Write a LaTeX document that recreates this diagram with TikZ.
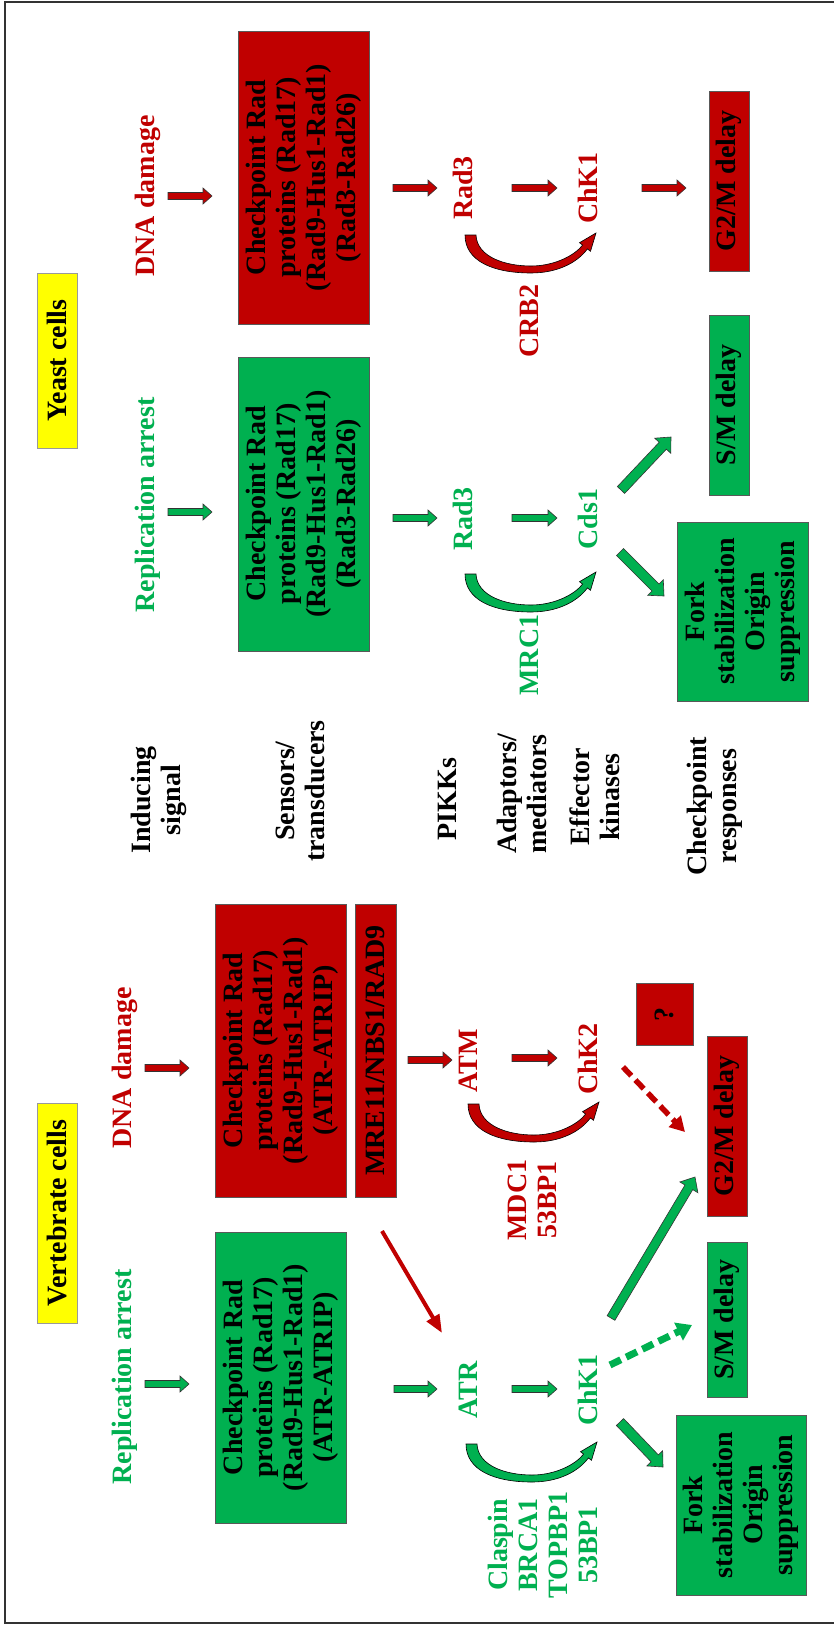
\documentclass[tikz,border=0pt]{standalone}
\usepackage{fontspec}
\setmainfont{Liberation Serif}
\usetikzlibrary{calc,arrows.meta}
\definecolor{cred}{HTML}{C00000}
\definecolor{cgreen}{HTML}{00B050}
\definecolor{cyellow}{HTML}{FFFF00}
\newcommand\bigfont{\fontsize{28}{30}\selectfont\bfseries}
% block arrow from #2 to #3: style #1, shaft half width #4, head half width #5, head length #6
\newcommand\blockarrow[6]{%
  \coordinate (bac) at ($(#3)!#6!(#2)$);
  \filldraw[#1] ($(#2)!#4!90:(#3)$) -- ($(bac)!#4!-90:(#2)$) -- ($(bac)!#5!-90:(#2)$) -- (#3)
    -- ($(bac)!#5!90:(#2)$) -- ($(bac)!#4!90:(#2)$) -- ($(#2)!#4!-90:(#3)$) -- cycle;}
% curved block arrow starting at coordinate #2
\newcommand\bendarrow[2]{%
  \filldraw[#1, shift={(#2)}] (0,0) -- (11,0) .. controls (12,22) and (40,31) .. (66,31)
    .. controls (90,31) and (110,20) .. (117.6,10.1) -- (114.5,7.7) -- (131,-2)
    -- (125.5,16.3) -- (122.4,13.9) .. controls (112,28) and (92,38) .. (66,38)
    .. controls (28,38) and (0,26) .. (0,0) -- cycle;}
\tikzset{
  lbl/.style={rotate=90, font=\bigfont, align=center, inner sep=0pt},
  redlbl/.style={lbl, text=cred},
  greenlbl/.style={lbl, text=cgreen},
  blacklbl/.style={lbl, text=black},
  box/.style={lbl, draw=black!65, line width=0.8pt, text=black},
  redbox/.style={box, fill=cred},
  greenbox/.style={box, fill=cgreen},
  yellowbox/.style={box, fill=cyellow, draw=black!40},
  redarr/.style={fill=cred, draw=black!80, line width=0.6pt},
  greenarr/.style={fill=cgreen, draw=black!80, line width=0.6pt},
  redbend/.style={fill=cred, draw=black, line width=0.6pt},
  greenbend/.style={fill=cgreen, draw=black, line width=0.6pt},
}
\begin{document}
\begin{tikzpicture}[x=1pt, y=-1pt]
\useasboundingbox (0,0) rectangle (834,1627);
\fill[white] (0,0) rectangle (834,1627);
% frame
\draw[black!80, line width=1.5pt] (834,2) -- (5,2) -- (5,1623) -- (834,1623);

% ---------------- yeast cells ----------------
\node[yellowbox, minimum width=175pt, minimum height=40pt] (yeast) at (57,360.5) {Yeast cells};
\node[redlbl] (ydna) at (148,196) {DNA damage};
\node[greenlbl] (yrep) at (148,505) {Replication arrest};
\node[redbox, minimum width=293pt, minimum height=131pt] (ysensr) at (303.5,177.5)
  {Checkpoint Rad\\proteins (Rad17)\\(Rad9-Hus1-Rad1)\\(Rad3-Rad26)};
\node[greenbox, minimum width=294pt, minimum height=131pt] (ysensg) at (303.5,504)
  {Checkpoint Rad\\proteins (Rad17)\\(Rad9-Hus1-Rad1)\\(Rad3-Rad26)};
\node[redlbl] (yrad3r) at (463,188) {Rad3};
\node[redlbl] (ychk1) at (588,188) {ChK1};
\node[redlbl] (ycrb2) at (529,321) {CRB2};
\node[greenlbl] (yrad3g) at (463,519) {Rad3};
\node[greenlbl] (ycds1) at (588,519) {Cds1};
\node[greenlbl] (ymrc1) at (529,655) {MRC1};
\node[redbox, minimum width=180pt, minimum height=40pt] (yg2m) at (729,181) {G2/M delay};
\node[greenbox, minimum width=180pt, minimum height=40pt] (ysm) at (729,405) {S/M delay};
\node[greenbox, minimum width=179pt, minimum height=131pt] (yfork) at (742.5,611.5)
  {Fork\\stabilization\\Origin\\suppression};

% ---------------- row titles ----------------
\node[blacklbl] (tsig) at (159,800) {Inducing\\signal};
\node[blacklbl] (tsens) at (300,791) {Sensors/\\transducers};
\node[blacklbl] (tpikk) at (447,799) {PIKKs};
\node[blacklbl] (tadap) at (522,794) {Adaptors/\\mediators};
\node[blacklbl] (teff) at (595,797) {Effector\\kinases};
\node[blacklbl] (tresp) at (715,806) {Checkpoint\\responses};

% ---------------- vertebrate cells ----------------
\node[yellowbox, minimum width=220pt, minimum height=40pt] (vert) at (57,1213) {Vertebrate cells};
\node[redlbl] (vdna) at (125,1068) {DNA damage};
\node[greenlbl] (vrep) at (125,1377) {Replication arrest};
\node[redbox, minimum width=293pt, minimum height=131pt] (vsensr) at (280.5,1050.5)
  {Checkpoint Rad\\proteins (Rad17)\\(Rad9-Hus1-Rad1)\\(ATR-ATRIP)};
\node[redbox, minimum width=293pt, minimum height=41pt] (vmre) at (375.5,1050.5) {MRE11/NBS1/RAD9};
\node[greenbox, minimum width=291pt, minimum height=131pt] (vsensg) at (280.5,1377.5)
  {Checkpoint Rad\\proteins (Rad17)\\(Rad9-Hus1-Rad1)\\(ATR-ATRIP)};
\node[redlbl] (vatm) at (468,1061) {ATM};
\node[redlbl] (vchk2) at (588,1059) {ChK2};
\node[redlbl] (vmdc) at (532,1200) {MDC1\\53BP1};
\node[greenlbl] (vatr) at (468,1390) {ATR};
\node[greenlbl] (vchk1) at (588,1390) {ChK1};
\node[greenlbl] (vclasp) at (543,1545) {Claspin\\BRCA1\\TOPBP1\\53BP1};
\node[redbox, minimum width=62pt, minimum height=57pt] (vq) at (664.5,1014) {?};
\node[redbox, minimum width=180pt, minimum height=40pt] (vg2m) at (727,1126) {G2/M delay};
\node[greenbox, minimum width=155pt, minimum height=40pt] (vsm) at (727,1319.5) {S/M delay};
\node[greenbox, minimum width=180pt, minimum height=130pt] (vfork) at (741,1505)
  {Fork\\stabilization\\Origin\\suppression};

% ---------------- arrow end points ----------------
\coordinate (ya1) at (168,196);  \coordinate (ya1e) at (212,196);
\coordinate (ya2) at (393,188);  \coordinate (ya2e) at (437,188);
\coordinate (ya3) at (512,188);  \coordinate (ya3e) at (557,188);
\coordinate (ya4) at (642,188);  \coordinate (ya4e) at (686,188);
\coordinate (yb1) at (168,512);  \coordinate (yb1e) at (212,512);
\coordinate (yb2) at (393,518);  \coordinate (yb2e) at (437,518);
\coordinate (yb3) at (512,518);  \coordinate (yb3e) at (557,518);
\coordinate (yb4) at (621,490);  \coordinate (yb4e) at (671,437);
\coordinate (yb5) at (620,552);  \coordinate (yb5e) at (664,596);
\coordinate (va1) at (145,1068); \coordinate (va1e) at (189,1068);
\coordinate (va2) at (408,1060); \coordinate (va2e) at (452,1060);
\coordinate (va3) at (512,1058); \coordinate (va3e) at (557,1058);
\coordinate (vb1) at (145,1384); \coordinate (vb1e) at (189,1384);
\coordinate (vb2) at (394,1389); \coordinate (vb2e) at (437,1389);
\coordinate (vb3) at (512,1389); \coordinate (vb3e) at (557,1389);
\coordinate (vb4) at (611,1318); \coordinate (vb4e) at (695,1177);
\coordinate (vb5) at (620,1422); \coordinate (vb5e) at (663,1467);
\coordinate (vd1) at (610,1365); \coordinate (vd1e) at (692,1325);
\coordinate (vd2) at (623,1067); \coordinate (vd2e) at (685,1132);
\coordinate (vr1) at (382,1231); \coordinate (vr1e) at (442,1333);
\coordinate (yc1) at (465,235);  \coordinate (yc2) at (465,574);
\coordinate (vc1) at (468,1104); \coordinate (vc2) at (466,1444);

% ---------------- straight block arrows ----------------
\blockarrow{redarr}{ya1}{ya1e}{3.5pt}{8pt}{9pt}
\blockarrow{redarr}{ya2}{ya2e}{3.5pt}{8pt}{9pt}
\blockarrow{redarr}{ya3}{ya3e}{3.5pt}{8pt}{9pt}
\blockarrow{redarr}{ya4}{ya4e}{3.5pt}{8pt}{9pt}
\blockarrow{greenarr}{yb1}{yb1e}{3.5pt}{8pt}{9pt}
\blockarrow{greenarr}{yb2}{yb2e}{3.5pt}{8pt}{9pt}
\blockarrow{greenarr}{yb3}{yb3e}{3.5pt}{8pt}{9pt}
\blockarrow{greenarr}{yb4}{yb4e}{5pt}{11pt}{12pt}
\blockarrow{greenarr}{yb5}{yb5e}{5pt}{11pt}{12pt}
\blockarrow{redarr}{va1}{va1e}{3.5pt}{8pt}{9pt}
\blockarrow{redarr}{va2}{va2e}{3.5pt}{8pt}{9pt}
\blockarrow{redarr}{va3}{va3e}{3.5pt}{8pt}{9pt}
\blockarrow{greenarr}{vb1}{vb1e}{3.5pt}{8pt}{9pt}
\blockarrow{greenarr}{vb2}{vb2e}{3.5pt}{8pt}{9pt}
\blockarrow{greenarr}{vb3}{vb3e}{3.5pt}{8pt}{9pt}
\blockarrow{greenarr}{vb4}{vb4e}{4.5pt}{10.5pt}{12pt}
\blockarrow{greenarr}{vb5}{vb5e}{5pt}{11pt}{12pt}

% ---------------- dashed and thin arrows ----------------
\draw[cgreen, line width=7pt, dash pattern=on 12pt off 6pt,
  -{Triangle[length=15pt,width=19pt]}] (vd1) -- (vd1e);
\draw[cred, line width=5.5pt, dash pattern=on 12pt off 6pt,
  -{Triangle[length=15pt,width=16pt]}] (vd2) -- (vd2e);
\draw[cred, line width=4pt, -{Triangle[length=18pt,width=14pt]}] (vr1) -- (vr1e);

% ---------------- curved arrows ----------------
\bendarrow{redbend}{yc1}
\bendarrow{greenbend}{yc2}
\bendarrow{redbend}{vc1}
\bendarrow{greenbend}{vc2}
\end{tikzpicture}
\end{document}
